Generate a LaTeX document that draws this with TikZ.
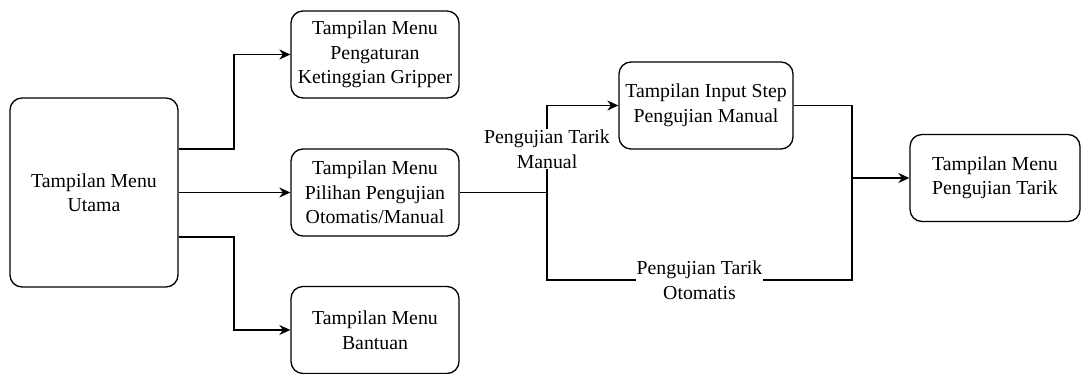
\documentclass[tikz,border=0pt]{standalone}
\usepackage{fontspec}
\setmainfont{LiberationSerif}[Extension=.ttf, UprightFont=*-Regular, BoldFont=*-Bold]
\usetikzlibrary{arrows.meta}
\begin{document}
\begin{tikzpicture}[x=1pt, y=-1pt, line width=1.3pt,
    menubox/.style={draw, rounded corners=12pt, align=center, inner sep=0pt,
        font=\fontsize{19.8}{24.5}\selectfont, minimum width=168pt, minimum height=87pt},
    lbl/.style={fill=white, align=center, inner sep=1pt, font=\fontsize{19.8}{24.5}\selectfont},
    arr/.style={-{Stealth[length=11pt, width=10pt, inset=3.5pt]}}]
    \useasboundingbox (0,0) rectangle (1081,374);
    \node[menubox, minimum height=189pt] (utama) at (94,192.5) {Tampilan Menu\\Utama};
    \node[menubox] (gripper) at (375,54.5) {Tampilan Menu\\Pengaturan\\Ketinggian Gripper};
    \node[menubox] (pilihan) at (375,192.5) {Tampilan Menu\\Pilihan Pengujian\\Otomatis/Manual};
    \node[menubox] (bantuan) at (375,330) {Tampilan Menu\\Bantuan};
    \node[menubox, minimum width=174pt] (input) at (706,105.5) {Tampilan Input Step\\Pengujian Manual};
    \node[menubox, minimum width=170pt] (tarik) at (995,178) {Tampilan Menu\\Pengujian Tarik};
    \coordinate (jl) at (547,192.5);
    \coordinate (jr) at (852,178);
    \draw[arr] (utama.east |- 0,149) -- (234,149) |- (gripper.west);
    \draw[arr] (utama.east |- pilihan) -- (pilihan.west);
    \draw[arr] (utama.east |- 0,237) -- (234,237) |- (bantuan.west);
    \draw (pilihan.east) -- (jl);
    \draw[arr] (jl) |- node[lbl, pos=0.25] {Pengujian Tarik\\Manual} (input.west);
    \draw (jl) -- (547,280) -- node[lbl] {Pengujian Tarik\\Otomatis} (852,280) -- (jr);
    \draw (input.east) -| (jr);
    \draw[arr] (jr) -- (tarik.west);
\end{tikzpicture}
\end{document}
